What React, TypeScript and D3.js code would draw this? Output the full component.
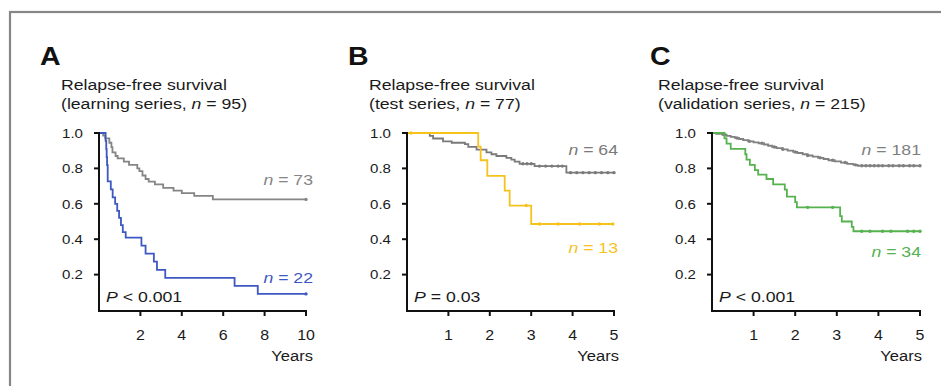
import React from "react";
import * as d3 from "d3";

// ---------- data ----------
const panelLetters = ["A", "B", "C"];
const titleLine1 = "Relapse-free survival";
const seriesNames = ["learning series", "test series", "validation series"];
const seriesTotals = [95, 77, 215];
const pValueLabels = ["P < 0.001", "P = 0.03", "P < 0.001"];
const yTickValues = [0.2, 0.4, 0.6, 0.8, 1.0];
const xTicksA = [2, 4, 6, 8, 10];
const xTicksBC = [1, 2, 3, 4, 5];
const xMaxes = [10, 5, 5];

// Panel A, good-prognosis group (n = 73)
const aGrayTimes = [0, 0.2, 0.3, 0.5, 0.6, 0.65, 0.8, 0.9, 1.2, 1.45, 1.85, 1.95, 2.1, 2.25, 2.4, 2.7, 3.1, 3.6, 4.0, 4.6, 5.5];
const aGraySurv = [1.0, 0.986, 0.97, 0.945, 0.92, 0.89, 0.87, 0.857, 0.838, 0.82, 0.8, 0.785, 0.76, 0.74, 0.725, 0.71, 0.69, 0.675, 0.66, 0.645, 0.625];
const aGrayCensor = [10];
const aGrayN = 73;
// Panel A, poor-prognosis group (n = 22)
const aBlueTimes = [0, 0.32, 0.35, 0.37, 0.39, 0.42, 0.57, 0.66, 0.78, 0.88, 0.97, 1.06, 1.15, 1.29, 2.05, 2.25, 2.65, 2.8, 3.2, 6.55, 7.67];
const aBlueSurv = [1.0, 0.955, 0.909, 0.864, 0.818, 0.727, 0.682, 0.636, 0.6, 0.56, 0.52, 0.48, 0.44, 0.409, 0.364, 0.318, 0.273, 0.227, 0.182, 0.136, 0.091];
const aBlueCensor = [10];
const aBlueN = 22;

// Panel B (n = 64 / n = 13)
const bGrayTimes = [0, 0.55, 0.63, 0.87, 1.08, 1.4, 1.48, 1.68, 1.92, 2.04, 2.16, 2.4, 2.52, 2.6, 2.72, 3.08, 3.85];
const bGraySurv = [1.0, 0.984, 0.969, 0.953, 0.945, 0.937, 0.922, 0.906, 0.89, 0.88, 0.87, 0.86, 0.85, 0.838, 0.826, 0.813, 0.776];
const bGrayCensor = [2.8, 2.9, 3.0, 3.2, 3.35, 3.5, 3.65, 3.75, 3.95, 4.1, 4.25, 4.4, 4.55, 4.7, 4.85, 5.0];
const bGrayN = 64;
const bYellowTimes = [0, 1.72, 1.78, 1.94, 2.36, 2.48, 3.0];
const bYellowSurv = [1.0, 0.923, 0.846, 0.758, 0.674, 0.59, 0.486];
const bYellowCensor = [0.1, 2.88, 3.2, 3.65, 4.17, 4.65, 4.97];
const bYellowN = 13;

// Panel C (n = 181 / n = 34)
const cGrayTimes = [0, 0.1, 0.25, 0.35, 0.45, 0.55, 0.65, 0.75, 0.87, 1.0, 1.12, 1.25, 1.35, 1.45, 1.55, 1.7, 1.82, 1.95, 2.05, 2.18, 2.3, 2.42, 2.55, 2.68, 2.8, 2.95, 3.1, 3.25, 3.4, 3.5];
const cGraySurv = [1.0, 0.995, 0.99, 0.984, 0.978, 0.972, 0.966, 0.96, 0.953, 0.947, 0.942, 0.935, 0.928, 0.921, 0.915, 0.908, 0.9, 0.893, 0.887, 0.88, 0.873, 0.866, 0.86, 0.853, 0.846, 0.84, 0.833, 0.826, 0.82, 0.815];
const cGrayCensor = [0.3, 0.6, 0.9, 1.2, 1.5, 1.7, 2.0, 2.3, 2.6, 2.9, 3.2, 3.45, 3.6, 3.7, 3.8, 3.9, 4.0, 4.1, 4.25, 4.35, 4.5, 4.6, 4.75, 4.85, 5.0];
const cGrayN = 181;
const cGreenTimes = [0, 0.3, 0.35, 0.45, 0.8, 0.83, 0.91, 1.03, 1.11, 1.31, 1.47, 1.75, 1.8, 2.0, 2.04, 3.08, 3.12, 3.36, 3.4];
const cGreenSurv = [1.0, 0.97, 0.94, 0.91, 0.88, 0.85, 0.82, 0.79, 0.765, 0.74, 0.71, 0.68, 0.64, 0.61, 0.58, 0.53, 0.5, 0.47, 0.445];
const cGreenCensor = [2.3, 2.9, 3.6, 3.8, 4.1, 4.3, 4.7, 4.85, 5.0];
const cGreenN = 34;

// ---------- styling / layout ----------
const FONT = "'Liberation Sans', Arial, Helvetica, sans-serif";
const STRETCH = 1.14;
const GRAY = "#858585";
const BLUE = "#3d58c2";
const YELLOW = "#f6c21c";
const GREEN = "#55b24f";
const Y_TOP = 133;
const Y_BOTTOM = 310;

type Series = { times: number[]; surv: number[]; censor: number[]; n: number; color: string; labelY: number; };

const panels = [
  {
    axisX: 99, axisEnd: 306, letterX: 40, titleX: 61, labelRight: 313, yearsRight: 313, ticks: xTicksA,
    series: [
      { times: aGrayTimes, surv: aGraySurv, censor: aGrayCensor, n: aGrayN, color: GRAY, labelY: 185 },
      { times: aBlueTimes, surv: aBlueSurv, censor: aBlueCensor, n: aBlueN, color: BLUE, labelY: 283 },
    ] as Series[],
  },
  {
    axisX: 407, axisEnd: 614, letterX: 348, titleX: 369, labelRight: 618, yearsRight: 619, ticks: xTicksBC,
    series: [
      { times: bGrayTimes, surv: bGraySurv, censor: bGrayCensor, n: bGrayN, color: "#7a7a7a", labelY: 155 },
      { times: bYellowTimes, surv: bYellowSurv, censor: bYellowCensor, n: bYellowN, color: YELLOW, labelY: 253 },
    ] as Series[],
  },
  {
    axisX: 712, axisEnd: 920, letterX: 650, titleX: 658, labelRight: 921, yearsRight: 922, ticks: xTicksBC,
    series: [
      { times: cGrayTimes, surv: cGraySurv, censor: cGrayCensor, n: cGrayN, color: "#808080", labelY: 155 },
      { times: cGreenTimes, surv: cGreenSurv, censor: cGreenCensor, n: cGreenN, color: GREEN, labelY: 257 },
    ] as Series[],
  },
];

function Txt(props: { x: number; y: number; size: number; anchor?: string; weight?: string; fill?: string; children: React.ReactNode }) {
  const { x, y, size, anchor = "start", weight = "normal", fill = "#1a1a1a", children } = props;
  return (
    <text
      transform={`translate(${x},${y}) scale(${STRETCH},1)`}
      fontFamily={FONT}
      fontSize={size}
      fontWeight={weight}
      textAnchor={anchor}
      fill={fill}
    >
      {children}
    </text>
  );
}

function survAt(times: number[], surv: number[], t: number) {
  const i = d3.bisectRight(times, t) - 1;
  return surv[Math.max(0, i)];
}

function Panel({ idx }: { idx: number }) {
  const p = panels[idx];
  const xMax = xMaxes[idx];
  const x = d3.scaleLinear().domain([0, xMax]).range([p.axisX, p.axisEnd]);
  const y = d3.scaleLinear().domain([0, 1]).range([Y_BOTTOM, Y_TOP]);
  const line = d3
    .line<[number, number]>()
    .x((d) => x(d[0]))
    .y((d) => y(d[1]))
    .curve(d3.curveStepAfter);
  const axisY = Y_BOTTOM + 1;
  const pv = pValueLabels[idx];
  return (
    <g>
      <Txt x={p.letterX} y={65} size={25} weight="bold" fill="#111">{panelLetters[idx]}</Txt>
      <Txt x={p.titleX} y={90} size={15.5}>{titleLine1}</Txt>
      <Txt x={p.titleX} y={109} size={15.5}>
        {"(" + seriesNames[idx] + ", "}
        <tspan fontStyle="italic">n</tspan>
        {" = " + seriesTotals[idx] + ")"}
      </Txt>

      {p.series.map((s, si) => {
        const pts: [number, number][] = s.times.map((t, i) => [t, s.surv[i]] as [number, number]);
        pts.push([xMax, s.surv[s.surv.length - 1]]);
        return (
          <g key={si}>
            <path d={line(pts) || ""} fill="none" stroke={s.color} strokeWidth={1.8} />
            {s.censor.map((c, ci) => (
              <circle key={ci} cx={x(c)} cy={y(survAt(s.times, s.surv, c))} r={1.7} fill={s.color} />
            ))}
            <Txt x={p.labelRight} y={s.labelY} size={15.5} anchor="end" fill={s.color}>
              <tspan fontStyle="italic">n</tspan>
              {" = " + s.n}
            </Txt>
          </g>
        );
      })}

      {/* axes */}
      <line x1={p.axisX} x2={p.axisX} y1={y(1) - 1} y2={axisY + 1} stroke="#111" strokeWidth={2} />
      <line x1={p.axisX - 1} x2={x(xMax) + 1} y1={axisY} y2={axisY} stroke="#111" strokeWidth={2} />
      {yTickValues.map((v) => (
        <g key={v}>
          <line x1={p.axisX - 5} x2={p.axisX} y1={y(v)} y2={y(v)} stroke="#111" strokeWidth={2} />
          <Txt x={p.axisX - 16} y={y(v) + 4.8} size={13.2} anchor="end">{v.toFixed(1)}</Txt>
        </g>
      ))}
      {p.ticks.map((t) => (
        <g key={t}>
          <line x1={x(t)} x2={x(t)} y1={axisY} y2={axisY + 5} stroke="#111" strokeWidth={2} />
          <Txt x={x(t)} y={340} size={14} anchor="middle">{String(t)}</Txt>
        </g>
      ))}
      <Txt x={p.yearsRight} y={361} size={14.5} anchor="end">Years</Txt>
      <Txt x={p.axisX + 7} y={302} size={15.5}>
        <tspan fontStyle="italic">P</tspan>
        {pv.slice(1)}
      </Txt>
    </g>
  );
}

export default function App() {
  return (
    <svg width={941} height={386} style={{ position: "absolute", left: 0, top: 0, background: "#fff" }}>
      <rect x={0} y={0} width={941} height={386} fill="#fff" />
      <rect x={10} y={12} width={1200} height={1200} fill="none" stroke="#868686" strokeWidth={2.2} />
      {panels.map((_, i) => (
        <Panel key={i} idx={i} />
      ))}
    </svg>
  );
}
